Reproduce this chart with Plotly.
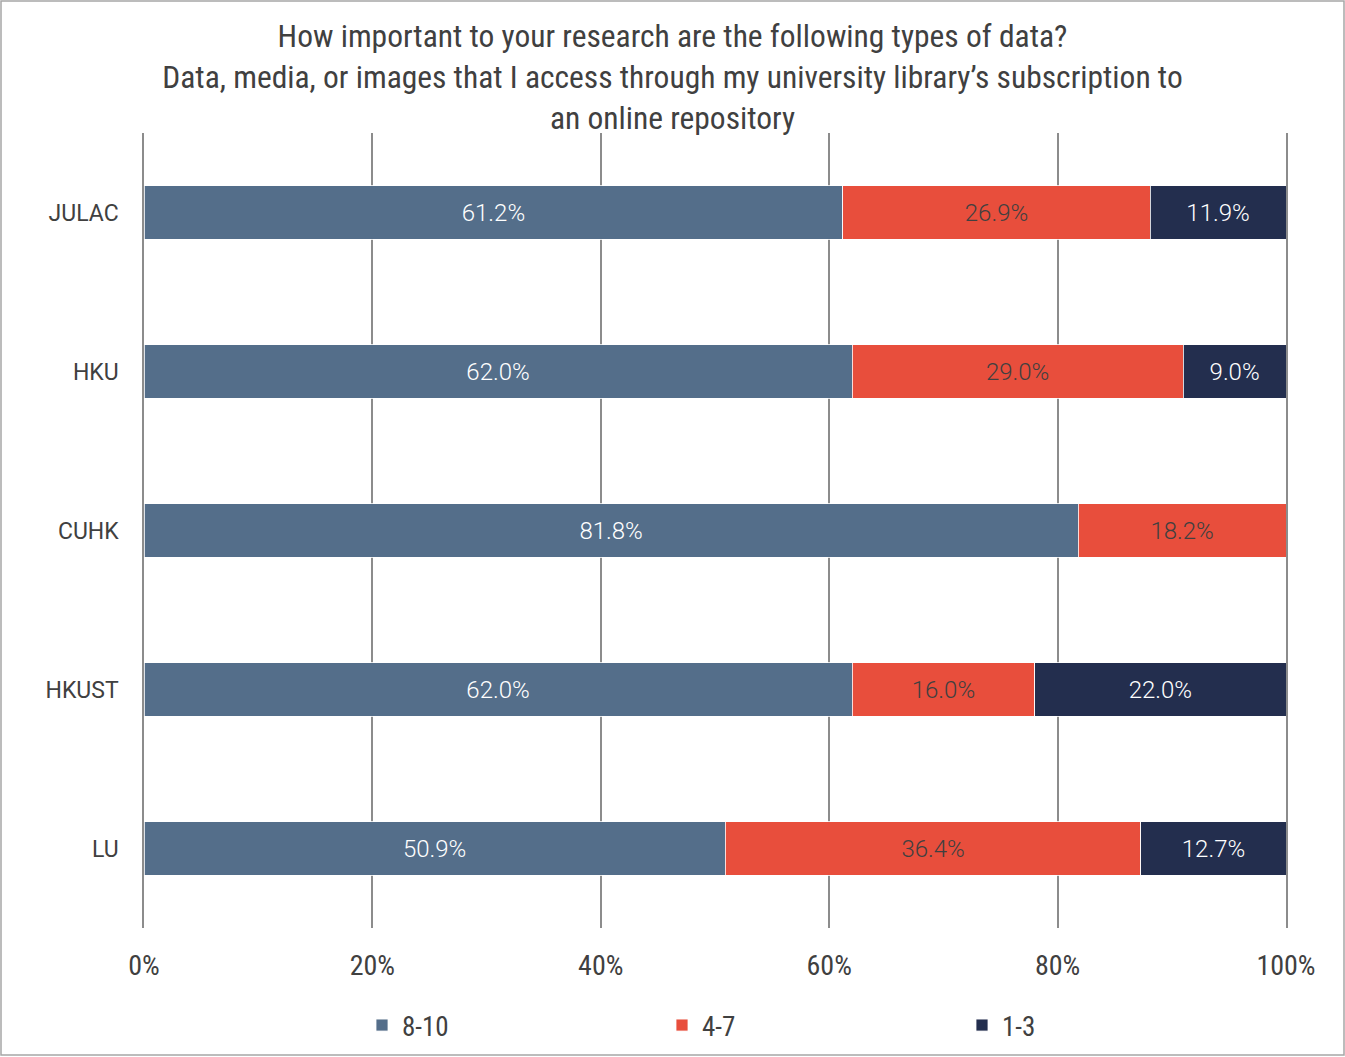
import plotly.graph_objects as go

# Data
categories = ['JULAC', 'HKU', 'CUHK', 'HKUST', 'LU']
series_names = ['8-10', '4-7', '1-3']
high = [61.2, 62.0, 81.8, 62.0, 50.9]
mid = [26.9, 29.0, 18.2, 16.0, 36.4]
low = [11.9, 9.0, 0.0, 22.0, 12.7]
tick_vals = [0, 20, 40, 60, 80, 100]
tick_text = ['0%', '20%', '40%', '60%', '80%', '100%']

colors = ['#546E8A', '#E84E3C', '#232E4E']
label_colors = ['#FFFFFF', '#404040', '#FFFFFF']

COND = 'Roboto Condensed, Liberation Sans Narrow, Roboto, sans-serif'

fig = go.Figure()
for name, vals, col, lcol in zip(series_names, [high, mid, low], colors, label_colors):
    fig.add_trace(go.Bar(
        y=categories, x=vals, name=name, orientation='h',
        marker=dict(color=col, line=dict(color='#FFFFFF', width=0.8)),
        text=[f'{v:.1f}%' if v > 0 else '' for v in vals],
        textposition='inside', insidetextanchor='middle',
        textfont=dict(family='Roboto, sans-serif', size=24, color=lcol, weight=300),
        width=0.335, hoverinfo='skip',
    ))

W, H = 1345, 1057
ml, mr, mt, mb = 144, 59, 133, 129
pw, ph = W - ml - mr, H - mt - mb

def px_x(p):
    return (p - ml) / pw

def px_y(p):
    return (H - mb - p) / ph

fig.update_layout(
    width=W, height=H,
    margin=dict(l=ml, r=mr, t=mt, b=mb, autoexpand=False),
    barmode='stack',
    plot_bgcolor='white', paper_bgcolor='white',
    title=dict(
        text='How important to your research are the following types of data?<br>'
             'Data, media, or images that I access through my university library\u2019s subscription to<br>'
             'an online repository',
        x=0.5, xanchor='center', yref='container', y=1 - 47 / H, yanchor='top',
        font=dict(family=COND, size=31.5, color='#404040'),
    ),
    xaxis=dict(
        range=[0, 100], tickvals=tick_vals, ticktext=tick_text,
        showgrid=True, gridcolor='#8C8C8C', gridwidth=1.5,
        zeroline=False, showline=False, ticks='',
        tickfont=dict(family=COND, size=28, color='#404040'),
        ticklabelstandoff=18,
    ),
    yaxis=dict(
        autorange='reversed', showgrid=False, ticks='',
        showline=True, mirror=True, linecolor='#8C8C8C', linewidth=1.5,
        tickfont=dict(family='Roboto, Arial, sans-serif', size=23, color='#404040'),
        ticklabelstandoff=19,
    ),
    legend=dict(
        orientation='h', x=px_x(362), xanchor='left', y=px_y(1001), yanchor='top',
        entrywidth=255, traceorder='normal',
        font=dict(family=COND, size=27, color='#404040'),
    ),
    showlegend=True,
    shapes=[dict(
        type='rect', xref='paper', yref='paper',
        x0=px_x(1), x1=px_x(1344), y0=px_y(1055), y1=px_y(1),
        line=dict(color='#A6A6A6', width=1.5), layer='below',
    )],
)

fig.write_html('out.html', config={'displayModeBar': False},
               post_script="document.body.style.margin='0';")
